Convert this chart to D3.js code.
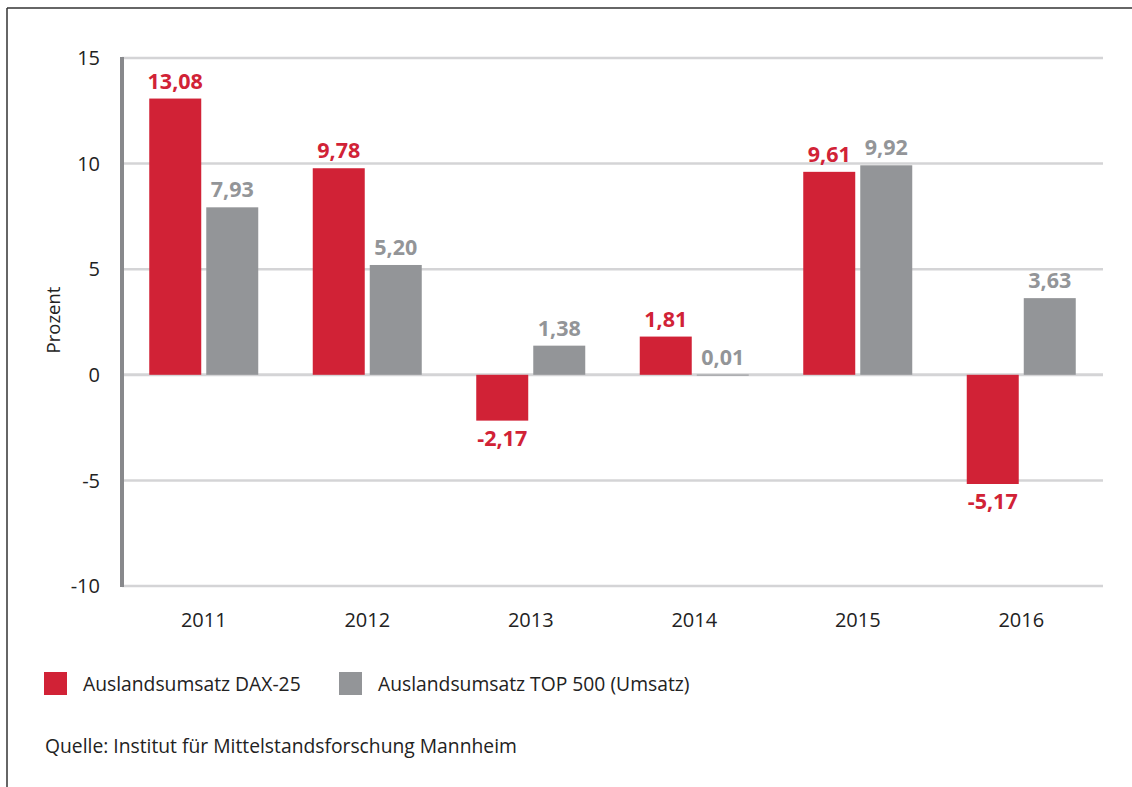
<!DOCTYPE html>
<html>
<head>
<meta charset="utf-8">
<script src="https://cdn.jsdelivr.net/npm/d3@7"></script>
<style>
  body { margin: 0; background: #fff; }
  text { font-family: "Open Sans", sans-serif; }
</style>
</head>
<body>
<div id="chart"></div>
<script>
var years = ["2011", "2012", "2013", "2014", "2015", "2016"];
var seriesNames = ["Auslandsumsatz DAX-25", "Auslandsumsatz TOP 500 (Umsatz)"];
var dax25 = [13.08, 9.78, -2.17, 1.81, 9.61, -5.17];
var top500 = [7.93, 5.20, 1.38, 0.01, 9.92, 3.63];
var yTicks = [15, 10, 5, 0, -5, -10];
var source = "Quelle: Institut für Mittelstandsforschung Mannheim";

var svgWidth = 1132;
var svgHeight = 787;
var colors = ["#d12236", "#939598"];
var fontSize = 19.3;

var svg = d3.select("#chart")
  .append("svg")
  .attr("width", svgWidth)
  .attr("height", svgHeight);

// frame (top + left only)
svg.append("line").attr("x1", 7).attr("x2", svgWidth).attr("y1", 8).attr("y2", 8)
  .attr("stroke", "#333").attr("stroke-width", 1.5);
svg.append("line").attr("x1", 7).attr("x2", 7).attr("y1", 8).attr("y2", svgHeight)
  .attr("stroke", "#333").attr("stroke-width", 1.5);

var x0 = d3.scaleBand().domain(years).range([122, 1103]);
var x1 = d3.scaleBand().domain([0, 1])
  .range([x0.bandwidth() / 2 - 54.5, x0.bandwidth() / 2 + 54.5])
  .paddingInner(0.088);
var y = d3.scaleLinear().domain([-10, 15]).range([586, 58]);

// gridlines
svg.append("g").selectAll("line")
  .data(yTicks)
  .enter()
  .append("line")
  .attr("x1", 122)
  .attr("x2", 1103)
  .attr("y1", d => y(d))
  .attr("y2", d => y(d))
  .attr("stroke", "#d4d4d6")
  .attr("stroke-width", d => d === 0 ? 3 : 2.5);

// y tick labels
svg.append("g").selectAll("text")
  .data(yTicks)
  .enter()
  .append("text")
  .attr("x", 100)
  .attr("y", d => y(d))
  .attr("dy", "0.36em")
  .attr("text-anchor", "end")
  .attr("font-size", 20)
  .attr("fill", "#222")
  .text(d => d);

// axis title
svg.append("text")
  .attr("transform", "translate(60, 320) rotate(-90)")
  .attr("text-anchor", "middle")
  .attr("font-size", 18.5)
  .attr("fill", "#222")
  .text("Prozent");

// bars
var rows = years.map((yr, i) => ({ year: yr, values: [dax25[i], top500[i]] }));

var groups = svg.append("g").selectAll("g")
  .data(rows)
  .enter()
  .append("g")
  .attr("transform", d => `translate(${x0(d.year)},0)`);

groups.selectAll("rect")
  .data(d => d.values.map((v, k) => ({ v: v, k: k })))
  .enter()
  .append("rect")
  .attr("x", d => x1(d.k))
  .attr("width", x1.bandwidth())
  .attr("y", d => y(Math.max(0, d.v)))
  .attr("height", d => Math.max(1, Math.abs(y(d.v) - y(0))))
  .attr("fill", d => colors[d.k]);

groups.selectAll("text")
  .data(d => d.values.map((v, k) => ({ v: v, k: k })))
  .enter()
  .append("text")
  .attr("x", d => x1(d.k) + x1.bandwidth() / 2)
  .attr("y", d => d.v >= 0 ? y(d.v) - 10 : y(d.v) + 25)
  .attr("text-anchor", "middle")
  .attr("font-size", 21.5)
  .attr("font-weight", "bold")
  .attr("fill", d => colors[d.k])
  .text(d => d3.format(".2f")(d.v).replace(".", ",").replace("−", "-"));

// y axis line
svg.append("line")
  .attr("x1", 122).attr("x2", 122)
  .attr("y1", y(15) - 1).attr("y2", y(-10) + 1)
  .attr("stroke", "#88898c")
  .attr("stroke-width", 4);

// x labels
svg.append("g").selectAll("text")
  .data(years)
  .enter()
  .append("text")
  .attr("x", d => x0(d) + x0.bandwidth() / 2)
  .attr("y", 627)
  .attr("text-anchor", "middle")
  .attr("font-size", 20)
  .attr("fill", "#222")
  .text(d => d);

// legend
var legendX = [44, 339];
var legend = svg.append("g").selectAll("g")
  .data(seriesNames)
  .enter()
  .append("g")
  .attr("transform", (d, i) => `translate(${legendX[i]}, 672)`);

legend.append("rect")
  .attr("width", 23)
  .attr("height", 23)
  .attr("fill", (d, i) => colors[i]);

legend.append("text")
  .attr("x", 39)
  .attr("y", 19)
  .attr("font-size", fontSize)
  .attr("fill", "#222")
  .text(d => d);

svg.append("text")
  .attr("x", 45)
  .attr("y", 753)
  .attr("font-size", fontSize)
  .attr("fill", "#222")
  .text(source);
</script>
</body>
</html>
